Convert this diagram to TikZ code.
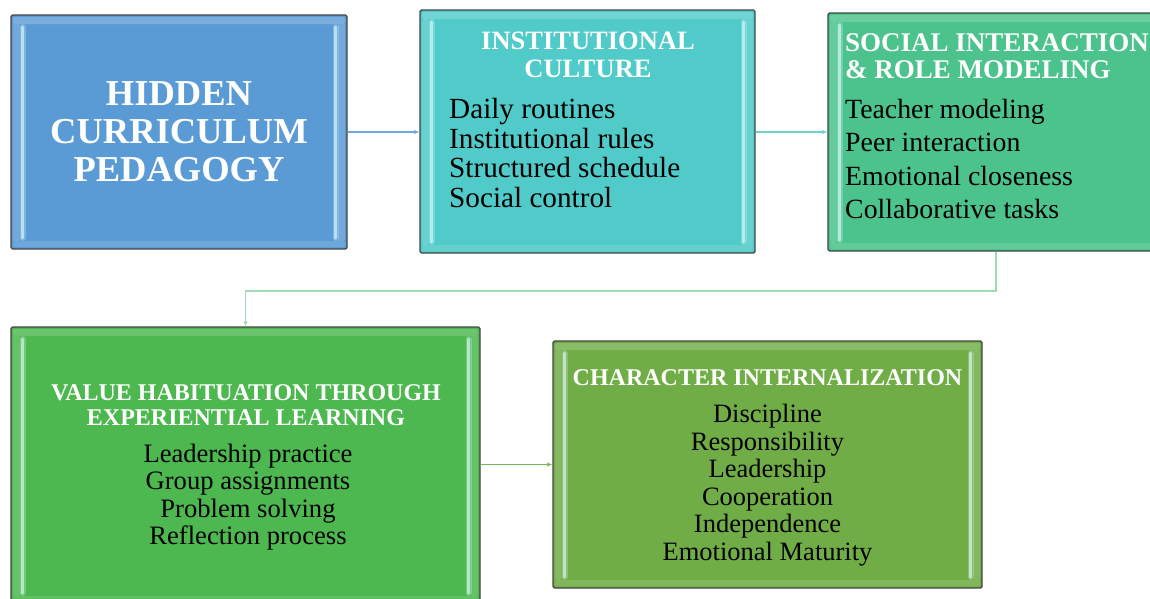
\documentclass[tikz,border=0pt]{standalone}
\usepackage{fontspec}
\setmainfont{Liberation Serif}
\usetikzlibrary{arrows.meta}

\definecolor{edgegray}{HTML}{454545}
\definecolor{hiddenblue}{HTML}{5B9BD5}
\definecolor{culturecyan}{HTML}{50CBC9}
\definecolor{socialgreen}{HTML}{4CC38C}
\definecolor{habitgreen}{HTML}{4CB84F}
\definecolor{chargreen}{HTML}{70AD47}
\definecolor{bluelink}{HTML}{6FA8DC}
\definecolor{cyanlink}{HTML}{6ED3CF}
\definecolor{palelink}{HTML}{9ADDB2}
\definecolor{greenlink}{HTML}{7AB65A}
\definecolor{shine}{HTML}{E4FBFF}

\tikzset{
  stage/.style={draw=edgegray, line width=1.4pt, rounded corners=1.5pt, inner sep=0pt,
    path picture={
      % bevel: light bands round the edge and two side strips
      \fill[white, opacity=.18] ([shift={(2pt,-2pt)}]path picture bounding box.north west)
        rectangle ([shift={(-2pt,-9pt)}]path picture bounding box.north east);
      \fill[white, opacity=.12] ([shift={(2pt,2pt)}]path picture bounding box.south west)
        rectangle ([shift={(-2pt,8pt)}]path picture bounding box.south east);
      \fill[white, opacity=.14] ([shift={(2pt,-9pt)}]path picture bounding box.north west)
        rectangle ([shift={(9pt,8pt)}]path picture bounding box.south west);
      \fill[white, opacity=.14] ([shift={(-2pt,-9pt)}]path picture bounding box.north east)
        rectangle ([shift={(-9pt,8pt)}]path picture bounding box.south east);
      \foreach \w/\o in {6pt/.25, 3pt/.6}{
        \draw[shine, opacity=\o, line width=\w, line cap=round]
          ([shift={(11.5pt,-12pt)}]path picture bounding box.north west)
          -- ([shift={(11.5pt,11pt)}]path picture bounding box.south west);
        \draw[shine, opacity=\o, line width=\w, line cap=round]
          ([shift={(-11.5pt,-12pt)}]path picture bounding box.north east)
          -- ([shift={(-11.5pt,11pt)}]path picture bounding box.south east);
      }
    }},
  title/.style 2 args={white, inner sep=0pt, align=center, font=\fontsize{#1}{#2}\selectfont\bfseries},
  items/.style 2 args={black, inner sep=0pt, align=left, font=\fontsize{#1}{#2}\selectfont},
  link/.style={line width=1.6pt, -{Latex[length=5pt,width=4.5pt]}},
}

\begin{document}
\begin{tikzpicture}[x=1pt, y=-1pt]
\useasboundingbox (0,0) rectangle (1150,598);

% stages
\node[stage, fill=hiddenblue, minimum width=336pt, minimum height=234pt] (hidden) at (179,132) {};
\node[stage, fill=culturecyan, minimum width=335pt, minimum height=243pt] (culture) at (587.5,131.5) {};
\node[stage, fill=socialgreen, minimum width=336pt, minimum height=238pt] (social) at (996,132) {};
\node[stage, fill=habitgreen, minimum width=469pt, minimum height=277pt] (habit) at (245.5,465.5) {};
\node[stage, fill=chargreen, minimum width=429pt, minimum height=247pt] (character) at (767.5,464.5) {};

% texts
\node[title={36.5}{38}] (hiddentxt) at (hidden.center) {HIDDEN\\CURRICULUM\\PEDAGOGY};

\node[title={26.5}{28}, anchor=north] (culturetitle) at (588,32) {INSTITUTIONAL\\CULTURE};
\node[items={29.2}{29.7}, anchor=north west] (culturelist) at (449,98)
  {Daily routines\\Institutional rules\\Structured schedule\\Social control};

\node[title={27}{27}, align=left, anchor=north west] (socialtitle) at (845,33) {SOCIAL INTERACTION\\\& ROLE MODELING};
\node[items={27.8}{33.3}, anchor=north west] (sociallist) at (845,99)
  {Teacher modeling\\Peer interaction\\Emotional closeness\\Collaborative tasks};

\node[title={24}{25}, anchor=north] (habittitle) at (246,384) {VALUE HABITUATION THROUGH\\EXPERIENTIAL LEARNING};
\node[items={26.6}{27.3}, align=center, anchor=north] (habitlist) at (248,444)
  {Leadership practice\\Group assignments\\Problem solving\\Reflection process};

\node[title={24}{25}, anchor=north] (chartitle) at (767.5,369) {CHARACTER INTERNALIZATION};
\node[items={26.5}{27.6}, align=center, anchor=north] (charlist) at (767.5,404)
  {Discipline\\Responsibility\\Leadership\\Cooperation\\Independence\\Emotional Maturity};

% links
\draw[link, color=bluelink] (hidden.east) -- (culture.west |- hidden.east);
\draw[link, color=cyanlink] (culture.east |- social.west) -- (social.west);
\draw[link, color=palelink] (social.south) -- ++(0,39) -| (habit.north);
\draw[link, color=greenlink] (habit.east |- character.west) -- (character.west);
\end{tikzpicture}
\end{document}
